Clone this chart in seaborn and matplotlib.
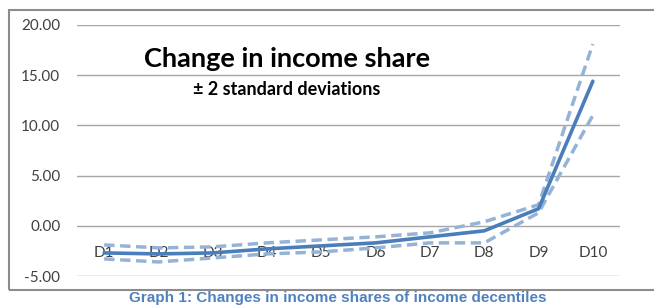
import matplotlib
matplotlib.use("Agg")
import matplotlib.pyplot as plt
import seaborn as sns
import pandas as pd
from matplotlib.patches import Rectangle

# change in income share by decile, with +/- 2 standard deviation bands
deciles = ["D1", "D2", "D3", "D4", "D5", "D6", "D7", "D8", "D9", "D10"]
mean = [-2.7, -2.8, -2.7, -2.3, -2.0, -1.7, -1.1, -0.5, 1.7, 14.4]
upper = [-1.9, -2.2, -2.1, -1.7, -1.4, -1.1, -0.7, 0.4, 2.1, 18.1]
lower = [-3.3, -3.6, -3.2, -2.8, -2.6, -2.2, -1.7, -1.7, 1.3, 11.0]
yticks = [-5, 0, 5, 10, 15, 20]

df = pd.DataFrame({"decile": deciles, "mean": mean, "upper": upper, "lower": lower})

sns.set_style("white")
plt.rcParams["font.family"] = ["Lato", "DejaVu Sans"]

fig = plt.figure(figsize=(6.54, 3.06), dpi=100)
ax = fig.add_axes([77 / 654, 1 - 276 / 306, 543 / 654, 251 / 306])

band_color = "#95b3d7"
line_color = "#4a7ebb"
sns.lineplot(data=df, x="decile", y="upper", ax=ax, color=band_color, lw=2.5,
             linestyle=(0, (3, 1.6)), sort=False)
sns.lineplot(data=df, x="decile", y="lower", ax=ax, color=band_color, lw=2.5,
             linestyle=(0, (3, 1.6)), sort=False)
sns.lineplot(data=df, x="decile", y="mean", ax=ax, color=line_color, lw=2.6, sort=False)

ax.set_xlim(-0.5, len(deciles) - 0.5)
ax.set_ylim(-5, 20)
ax.set_yticks(yticks)
ax.set_yticklabels([f"{v:.2f}" for v in yticks])
ax.yaxis.grid(True, color="#a6a6a6", lw=1)
ax.set_axisbelow(True)
ax.set_xlabel("")
ax.set_ylabel("")

for s in ["top", "right", "left", "bottom"]:
    ax.spines[s].set_visible(False)
ax.spines["bottom"].set_position(("data", 0))
ax.tick_params(axis="x", length=0, pad=14.5, labelsize=11, colors="#404040")
ax.tick_params(axis="y", length=0, pad=12, labelsize=11, colors="#404040")

ax.text(0.386, 0.866, "Change in income share", transform=ax.transAxes,
        ha="center", va="center", fontsize=19.5, fontweight="bold", color="black")
ax.text(0.386, 0.745, "± 2 standard deviations", transform=ax.transAxes,
        ha="center", va="center", fontsize=13, fontweight="bold", color="black")

# outer chart frame
fig.patches.append(Rectangle((9 / 654, 1 - 290 / 306), 1.0, 280 / 306,
                             transform=fig.transFigure, fill=False,
                             edgecolor="#8c8c8c", lw=1.5))

fig.text(338 / 654, 1 - 298 / 306, "Graph 1: Changes in income shares of income decentiles",
         ha="center", va="center", fontsize=11, fontweight="bold",
         color="#4f81bd", family=["Liberation Sans", "DejaVu Sans"])

fig.savefig("out.png", dpi=100)
